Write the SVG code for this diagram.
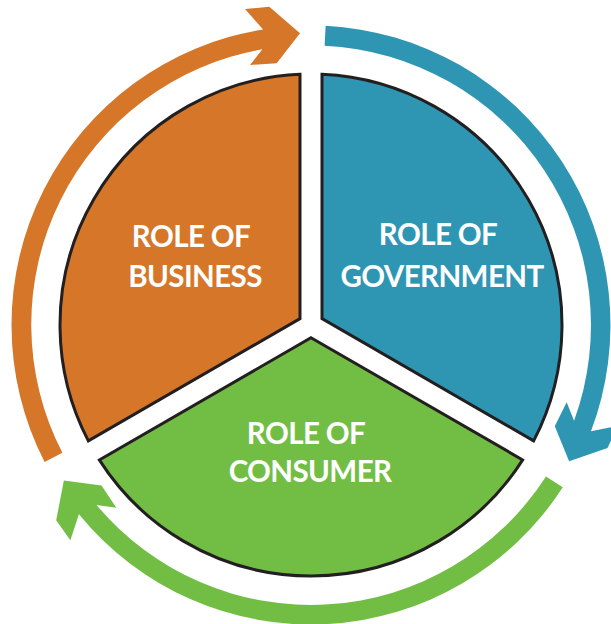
<svg xmlns="http://www.w3.org/2000/svg" xmlns:xlink="http://www.w3.org/1999/xlink" width="611" height="624" viewBox="0 0 611 624">
<style>
.sector{stroke:#231f20;stroke-width:3;stroke-linejoin:miter}
.lbl{font-family:Lato,"Open Sans","Liberation Sans",sans-serif;font-weight:bold;font-size:29.5px;letter-spacing:-0.6px;fill:#ffffff;text-anchor:middle}
.org{fill:#d57629}
.blu{fill:#2e96b3}
.grn{fill:#72be44}
</style>
<defs>
<path id="arrow" d="M44.6,461.9 A299.5,299.5 0 0 1 263.1,29.4 L245,9 L269.3,6.7 L300,33.3 L276.7,63.3 L250,65 L262.4,49.3 A279.5,279.5 0 0 0 62.4,452.8 Z"/>
</defs>
<rect width="611" height="624" fill="#ffffff"/>
<g id="connectors">
<use xlink:href="#arrow" href="#arrow" class="org"/>
<use xlink:href="#arrow" href="#arrow" class="blu" transform="rotate(120 311 325)"/>
<use xlink:href="#arrow" href="#arrow" class="grn" transform="rotate(240 311 325)"/>
</g>
<g id="business">
<path class="sector org" d="M300,318.65 L88.34,440.85 A251,251 0 0 1 300,74.24 Z"/>
<text class="lbl" x="191" y="247">ROLE OF</text>
<text class="lbl" x="195" y="287">BUSINESS</text>
</g>
<g id="government">
<path class="sector blu" d="M322,318.65 L322,74.24 A251,251 0 0 1 533.66,440.85 Z"/>
<text class="lbl" x="438" y="245">ROLE OF</text>
<text class="lbl" x="442" y="286.5">GOVERNMENT</text>
</g>
<g id="consumer">
<path class="sector grn" d="M311,337.7 L522.66,459.91 A251,251 0 0 1 99.34,459.91 Z"/>
<text class="lbl" x="306" y="443.5">ROLE OF</text>
<text class="lbl" x="310" y="481.5">CONSUMER</text>
</g>
</svg>
